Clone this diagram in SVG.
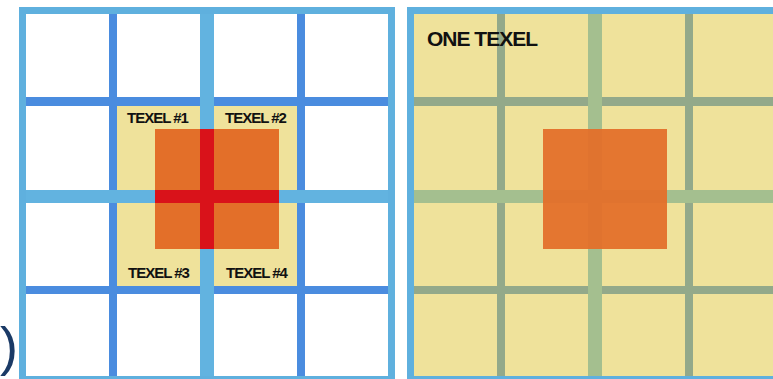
<svg xmlns="http://www.w3.org/2000/svg" width="773" height="379" viewBox="0 0 773 379">
<style>
.lbl{font-family:"Liberation Sans",Arial,sans-serif;font-weight:bold;font-size:15px;letter-spacing:-1px;fill:#111}
.big{font-family:"Liberation Sans",Arial,sans-serif;font-weight:bold;font-size:21px;letter-spacing:-1px;fill:#111}
.dark{fill:#4A8CDF}
.mid{fill:#62B3E0}
.gdark{fill:#93A98A}
.gmid{fill:#A4BF8F}
.border{fill:none;stroke:#5FB0DE;stroke-width:7}
.fringe{fill:none;stroke:#A9DCF0;stroke-width:1.5}
.yel{fill:#EFE29B}
.org{fill:#E36F29}
</style>
<rect x="0" y="0" width="773" height="379" fill="#ffffff"/>
<text x="0" y="365" font-family="'Liberation Sans',Arial,sans-serif" font-size="54" fill="#1B3A66">)</text>
<g id="left-panel">
  <rect class="yel" x="117" y="106" width="180" height="180"/>
  <rect class="dark" x="109" y="14" width="8" height="362"/>
  <rect class="dark" x="297" y="14" width="8" height="362"/>
  <rect class="dark" x="26" y="97" width="362" height="9"/>
  <rect class="dark" x="26" y="286" width="362" height="8"/>
  <rect class="mid" x="200" y="14" width="14" height="362"/>
  <rect class="mid" x="26" y="190" width="362" height="13"/>
  <rect class="org" x="155" y="129" width="124" height="120"/>
  <rect x="200" y="129" width="14" height="120" fill="#D9121A"/>
  <rect x="155" y="190" width="124" height="13" fill="#D9121A"/>
  <rect class="fringe" x="25.25" y="13.25" width="363.5" height="363.5"/>
  <rect class="border" x="22.5" y="10.5" width="369" height="369"/>
  <text class="lbl" x="127" y="123">TEXEL #1</text>
  <text class="lbl" x="225" y="123">TEXEL #2</text>
  <text class="lbl" x="128" y="278">TEXEL #3</text>
  <text class="lbl" x="226" y="278">TEXEL #4</text>
</g>
<g id="right-panel">
  <rect class="yel" x="410" y="10" width="370" height="370"/>
  <rect class="gdark" x="497" y="14" width="8" height="362"/>
  <rect class="gdark" x="685" y="14" width="8" height="362"/>
  <rect class="gdark" x="414" y="97" width="362" height="9"/>
  <rect class="gdark" x="414" y="286" width="362" height="8"/>
  <rect class="gmid" x="588" y="14" width="14" height="362"/>
  <rect class="gmid" x="414" y="190" width="362" height="13"/>
  <rect class="org" x="543" y="129" width="124" height="120" opacity="0.94"/>
  <rect class="fringe" x="413.25" y="13.25" width="363.5" height="363.5"/>
  <rect class="border" x="410.5" y="10.5" width="369" height="369"/>
  <text class="big" x="427" y="46">ONE TEXEL</text>
</g>
</svg>
